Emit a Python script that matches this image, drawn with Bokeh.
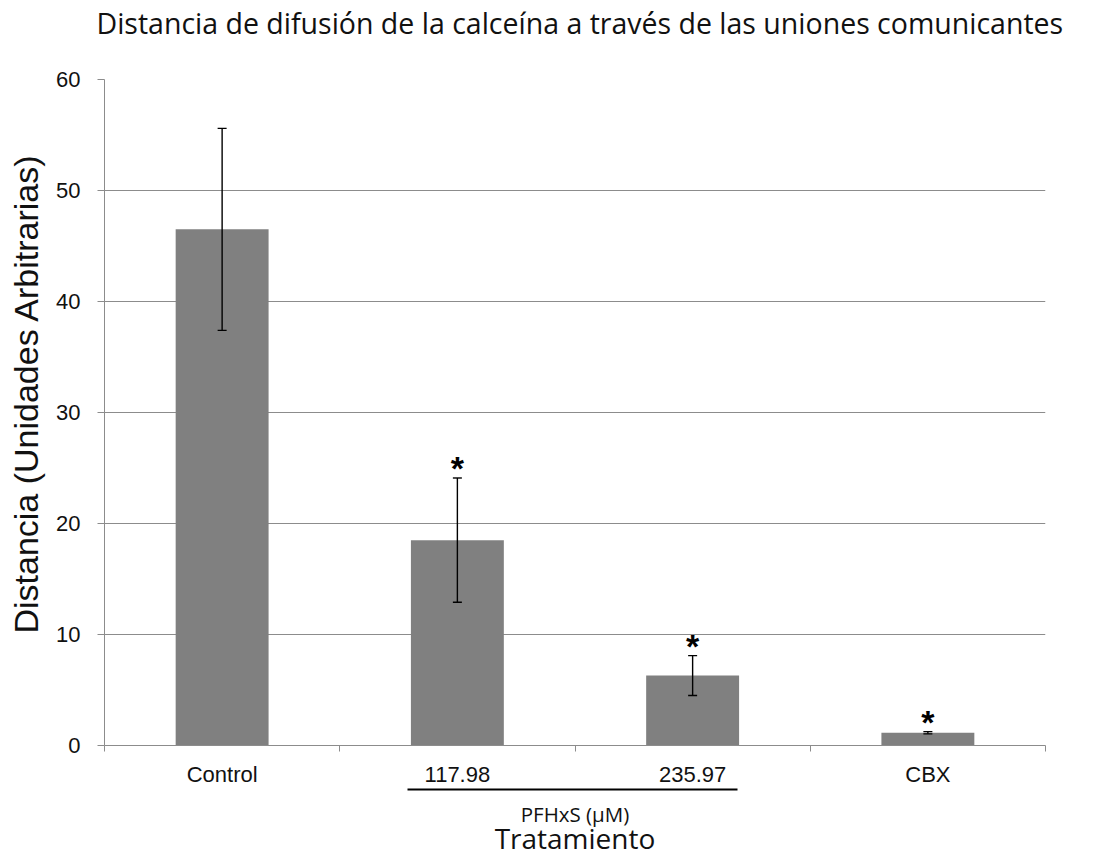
from bokeh.core.properties import value
from bokeh.embed import file_html
from bokeh.models import (ColumnDataSource, FixedTicker, LinearAxis, Range1d,
                          TeeHead, Title, Whisker)
from bokeh.plotting import figure
from bokeh.resources import INLINE

# Data: mean diffusion distance per treatment and its error
categories = ["Control", "117.98", "235.97", "CBX"]
means = [46.5, 18.5, 6.3, 1.15]
errors = [9.1, 5.6, 1.8, 0.1]
significance = ["", "*", "*", "*"]
y_ticks = [0, 10, 20, 30, 40, 50, 60]

GREY_LINE = "#8c8c8c"
BAR_COLOR = "#808080"
TEXT_COLOR = "#111111"
ARIAL = "Liberation Sans"
CALIBRI_LIKE = "Open Sans"
NBSP = "\u00a0"

centers = [i + 0.5 for i in range(len(categories))]
edges = list(range(len(categories) + 1))

source = ColumnDataSource(data=dict(
    x=centers,
    mean=means,
    upper=[m + e for m, e in zip(means, errors)],
    lower=[m - e for m, e in zip(means, errors)],
    star=significance,
))

p = figure(
    width=1104, height=859,
    x_range=Range1d(0, len(categories)), y_range=Range1d(0, 60),
    output_backend="svg", toolbar_location=None,
    x_axis_location=None, y_axis_location=None,
    min_border_left=104, min_border_right=59,
    min_border_top=79, min_border_bottom=114,
)
p.outline_line_color = None
p.background_fill_color = "white"
p.border_fill_color = "white"

# Title, lifted towards the top edge by a thin spacer between it and the frame
p.title.text = "Distancia de difusión de la calceína a través de las uniones comunicantes"
p.title.align = "left"
p.title.offset = -8
p.title.text_font = CALIBRI_LIKE
p.title.text_font_size = "28.5px"
p.title.text_font_style = "normal"
p.title.text_color = TEXT_COLOR
p.title.standoff = 2

spacer = Title(text=" ", text_font_size="1px", standoff=34)
p.above.insert(0, spacer)


def blank_axis(**kw):
    """An axis that carries no ticks or tick labels."""
    return LinearAxis(
        ticker=FixedTicker(ticks=[]),
        major_tick_line_color=None, minor_tick_line_color=None,
        major_tick_out=0, major_tick_in=0, minor_tick_out=0, minor_tick_in=0,
        major_label_standoff=0, **kw,
    )


# Y axis
yaxis = LinearAxis(
    ticker=FixedTicker(ticks=y_ticks),
    axis_line_color=GREY_LINE, axis_line_width=1,
    major_tick_line_color=GREY_LINE, major_tick_out=7, major_tick_in=0,
    minor_tick_line_color=None,
    major_label_text_font=ARIAL, major_label_text_font_size="22px",
    major_label_text_color=TEXT_COLOR, major_label_standoff=17,
    axis_label=NBSP * 4 + "Distancia (Unidades Arbitrarias)",
    axis_label_text_font=ARIAL, axis_label_text_font_size="34px",
    axis_label_text_font_style="normal", axis_label_text_color=TEXT_COLOR,
    axis_label_standoff=8,
)
p.add_layout(yaxis, "left")

# X axis: labels under bars, small ticks between categories
xaxis = LinearAxis(
    ticker=FixedTicker(ticks=centers, minor_ticks=edges),
    major_label_overrides={c: lab for c, lab in zip(centers, categories)},
    axis_line_color=GREY_LINE, axis_line_width=1,
    major_tick_line_color=None,
    minor_tick_line_color=GREY_LINE, minor_tick_out=6, minor_tick_in=0,
    major_label_text_font=ARIAL, major_label_text_font_size="22px",
    major_label_text_color=TEXT_COLOR, major_label_standoff=10,
)
p.add_layout(xaxis, "below")

# Bracket under the two PFHxS concentrations
bracket_axis = blank_axis(
    bounds=(1.288, 2.691), axis_line_color="black", axis_line_width=2,
    axis_label="PFHxS (µM)",
    axis_label_text_font=CALIBRI_LIKE, axis_label_text_font_size="20.5px",
    axis_label_text_font_style="normal", axis_label_text_color=TEXT_COLOR,
    axis_label_standoff=10,
)
p.add_layout(bracket_axis, "below")

treat_axis = blank_axis(
    bounds=(1.288, 2.691), axis_line_color=None,
    axis_label="Tratamiento",
    axis_label_text_font=CALIBRI_LIKE, axis_label_text_font_size="28px",
    axis_label_text_font_style="normal", axis_label_text_color=TEXT_COLOR,
    axis_label_standoff=-12,
)
p.add_layout(treat_axis, "below")

p.ygrid.ticker = FixedTicker(ticks=y_ticks)
p.ygrid.grid_line_color = GREY_LINE
p.ygrid.grid_line_width = 1
p.xgrid.grid_line_color = None

# Bars
p.vbar(x="x", top="mean", width=0.395, bottom=0, source=source,
       fill_color=BAR_COLOR, line_color=None)

# Error bars
whisker = Whisker(
    source=source, base="x", upper="upper", lower="lower",
    line_color="black", line_width=1.4,
    upper_head=TeeHead(size=9, line_color="black", line_width=1.4),
    lower_head=TeeHead(size=9, line_color="black", line_width=1.4),
    level="overlay",
)
p.add_layout(whisker)

# Significance marks
p.text(x="x", y="upper", text="star", source=source,
       text_font=value(ARIAL), text_font_style="bold",
       text_font_size="34px", text_color="black",
       text_align="center", text_baseline="alphabetic", y_offset=-10)

open("out.html", "w").write(file_html(p, INLINE))
